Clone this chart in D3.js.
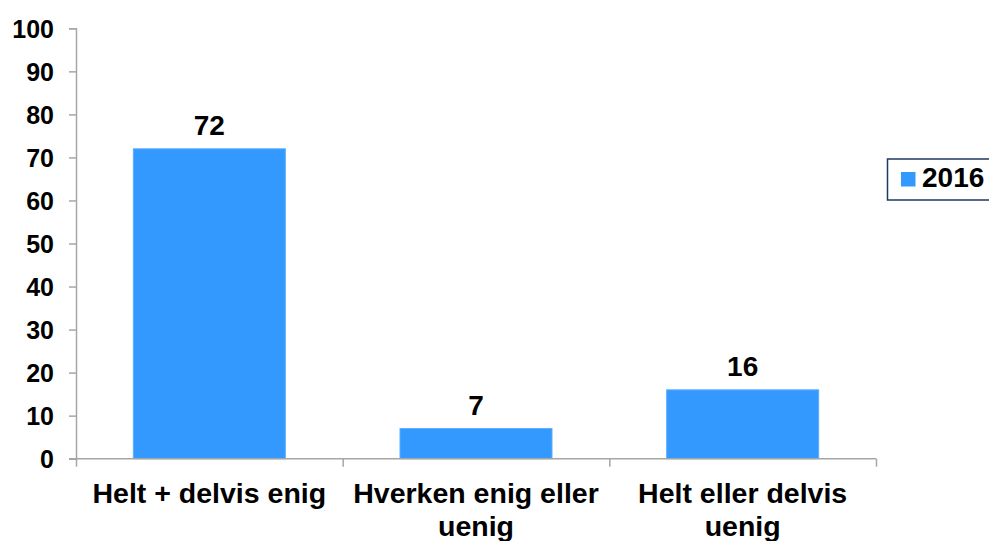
<!DOCTYPE html>
<html>
<head>
<meta charset="utf-8">
<script src="https://cdn.jsdelivr.net/npm/d3@7"></script>
<style>
  html, body { margin: 0; padding: 0; background: #fff; }
  svg { display: block; font-family: "Liberation Sans", Arial, sans-serif; font-weight: bold; }
</style>
</head>
<body>
<svg id="chart" width="989" height="541"></svg>
<script>
// Survey answers, share of respondents (%)
const categories = ["Helt + delvis enig", "Hverken enig eller uenig", "Helt eller delvis uenig"];
const values2016 = [72, 7, 16];
const seriesName = "2016";
const yTicks = [0, 10, 20, 30, 40, 50, 60, 70, 80, 90, 100];

const FONT = '"Liberation Sans", Arial, sans-serif';
const svg = d3.select("#chart");
const plot = { left: 76, right: 876, top: 28.3, bottom: 458.7 };
const axisColor = "#a6a6a6";
const barColor = "#3399ff";

const x = d3.scaleBand().domain(categories).range([plot.left, plot.right]).paddingInner(0.43).paddingOuter(0.215);
const y = d3.scaleLinear().domain([0, 100]).range([plot.bottom, plot.top]);

// bars
svg.append("g").selectAll("rect").data(values2016).join("rect")
  .attr("x", (d, i) => x(categories[i]))
  .attr("y", d => y(d))
  .attr("width", x.bandwidth())
  .attr("height", d => y(0) - y(d))
  .attr("fill", barColor)
  .attr("stroke", "#5aaeff")
  .attr("stroke-width", 1);

// value labels
svg.append("g").selectAll("text").data(values2016).join("text")
  .attr("x", (d, i) => x(categories[i]) + x.bandwidth() / 2)
  .attr("y", d => y(d) - 14)
  .attr("text-anchor", "middle")
  .attr("font-size", 28)
  .text(d => d);

// y axis
const yAxis = svg.append("g")
  .attr("transform", `translate(${plot.left},0)`)
  .call(d3.axisLeft(y).tickValues(yTicks).tickSize(7).tickPadding(15).tickFormat(d3.format("d")));
yAxis.select(".domain").attr("stroke", axisColor).attr("stroke-width", 1.5);
yAxis.selectAll(".tick line").attr("stroke", axisColor).attr("stroke-width", 1.5);
yAxis.selectAll(".tick text")
  .attr("fill", "#000")
  .attr("dy", "0.36em")
  .style("font-family", FONT)
  .style("font-size", "25px")
  .style("font-weight", "bold");

// x axis: baseline plus tick marks at band edges
const xBand = d3.scaleLinear().domain([0, categories.length]).range([plot.left, plot.right]);
const xAxis = svg.append("g")
  .attr("transform", `translate(0,${plot.bottom})`)
  .call(d3.axisBottom(xBand).ticks(categories.length).tickSize(8).tickFormat(""));
xAxis.select(".domain").attr("stroke", axisColor).attr("stroke-width", 1.5).attr("d", `M${plot.left - 7},0H${plot.right}`);
xAxis.selectAll(".tick line").attr("stroke", axisColor).attr("stroke-width", 1.5);

// category labels, wrapped to the band width
const catG = svg.append("g").selectAll("text").data(categories).join("text")
  .attr("text-anchor", "middle")
  .attr("font-size", 28.5)
  .attr("x", d => x(d) + x.bandwidth() / 2)
  .attr("y", 502.7);

catG.each(function (d) {
  const t = d3.select(this);
  const cx = x(d) + x.bandwidth() / 2;
  const maxW = (plot.right - plot.left) / categories.length - 8;
  const words = d.split(" ");
  let line = [];
  let tspan = t.append("tspan").attr("x", cx).attr("dy", 0);
  for (const w of words) {
    line.push(w);
    tspan.text(line.join(" "));
    if (tspan.node().getComputedTextLength() > maxW && line.length > 1) {
      line.pop();
      tspan.text(line.join(" "));
      line = [w];
      tspan = t.append("tspan").attr("x", cx).attr("dy", 33.5).text(w);
    }
  }
});

// legend
const legend = svg.append("g");
legend.append("rect")
  .attr("x", 887.5).attr("y", 159).attr("width", 120).attr("height", 41)
  .attr("fill", "#fff").attr("stroke", "#203864").attr("stroke-width", 1.5);
legend.append("rect")
  .attr("x", 901).attr("y", 172).attr("width", 14.5).attr("height", 14.5)
  .attr("fill", barColor);
legend.append("text")
  .attr("x", 922).attr("y", 187)
  .attr("font-size", 28)
  .text(seriesName);
</script>
</body>
</html>
